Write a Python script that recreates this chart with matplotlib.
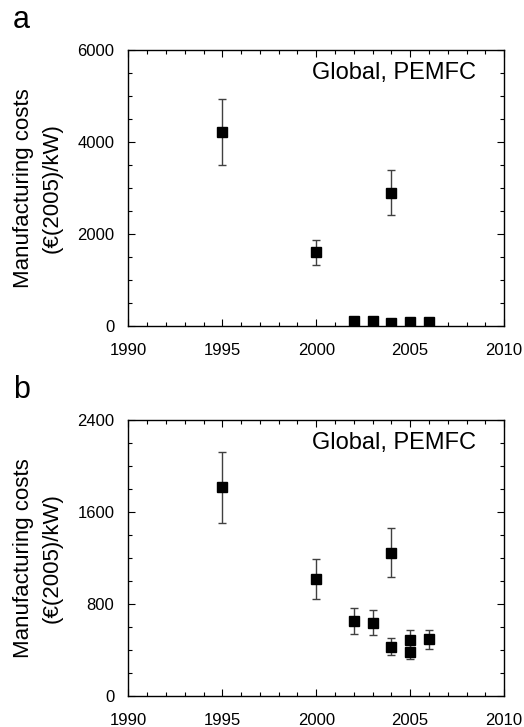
import matplotlib
matplotlib.use('Agg')
import matplotlib.pyplot as plt
from matplotlib.ticker import MultipleLocator

plt.rcParams['font.family'] = ['Liberation Sans', 'DejaVu Sans']

# panel a
years_a = [1995, 2000, 2004, 2002, 2003, 2004, 2005, 2006]
cost_a = [4220, 1600, 2900, 100, 100, 60, 80, 80]
err_a = [710, 270, 490, 0, 0, 0, 0, 0]

# panel b
years_b = [1995, 2000, 2004, 2002, 2003, 2004, 2005, 2005, 2006]
cost_b = [1815, 1017, 1246, 652, 637, 429, 487, 385, 493]
err_b = [310, 172, 215, 112, 110, 75, 87, 66, 85]

ylabel = "Manufacturing costs\n(\u20ac(2005)/kW)"
note = "Global, PEMFC"

fig = plt.figure(figsize=(5.24, 7.27), dpi=100)
ax_a = fig.add_axes([0.245, 0.5516, 0.717, 0.3796])
ax_b = fig.add_axes([0.245, 0.0426, 0.717, 0.3796])


def draw(ax, x, y, e, ymax, major, minor, letter):
    ax.errorbar(x, y, yerr=e, fmt='s', color='black', ms=7,
                ecolor='#404040', elinewidth=1.0, capsize=3, capthick=1.0)
    ax.set_xlim(1990, 2010)
    ax.set_ylim(0, ymax)
    ax.xaxis.set_major_locator(MultipleLocator(5))
    ax.xaxis.set_minor_locator(MultipleLocator(1))
    ax.yaxis.set_major_locator(MultipleLocator(major))
    ax.yaxis.set_minor_locator(MultipleLocator(minor))
    ax.tick_params(which='both', direction='in', top=True, right=True,
                   labelsize=12, width=0.8)
    ax.tick_params(which='major', length=5)
    ax.tick_params(which='minor', length=3)
    ax.tick_params(axis='y', pad=10)
    ax.tick_params(axis='x', pad=12)
    for s in ax.spines.values():
        s.set_linewidth(1.0)
    ax.set_ylabel(ylabel, fontsize=16, linespacing=1.45)
    ax.yaxis.set_label_coords(-0.175, 0.5)
    ax.text(0.925, 0.917, note, transform=ax.transAxes, ha='right',
            va='center', fontsize=17)
    ax.text(-0.308, 1.08, letter, transform=ax.transAxes, ha='left',
            va='baseline', fontsize=22)


draw(ax_a, years_a, cost_a, err_a, 6000, 2000, 500, 'a')
draw(ax_b, years_b, cost_b, err_b, 2400, 800, 200, 'b')

fig.savefig('out.png', dpi=100)
